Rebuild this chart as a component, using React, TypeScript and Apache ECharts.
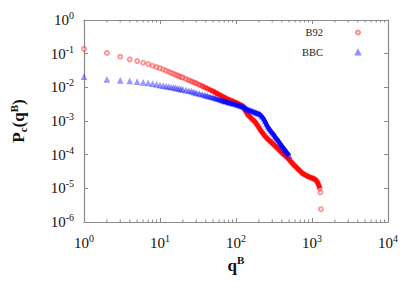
import React, { useEffect, useRef } from "react";
import * as echarts from "echarts";

// ---- data ----
const qRed = [1, 2, 3, 4, 5, 6, 7, 8, 9, 10, 11, 12, 13, 14, 15, 16, 17, 18, 19, 20, 22, 24, 26, 28, 30, 33, 36, 39, 42, 46, 50, 54, 58, 63, 68, 73, 79, 85, 92, 100, 106, 112, 118, 124, 130, 136, 142, 148, 155, 162, 170, 178, 186, 194, 203, 212, 221, 231, 241, 252, 263, 275, 287, 300, 313, 327, 341, 356, 372, 388, 405, 423, 441, 460, 480, 501, 523, 546, 570, 595, 621, 648, 676, 705, 735, 766, 799, 833, 868, 905, 943, 983, 1025, 1068, 1113, 1160, 1200, 1240, 1265, 1290, 1310];
const pRed = [0.138, 0.105, 0.0813, 0.0676, 0.0603, 0.0537, 0.049, 0.0437, 0.0398, 0.0372, 0.034, 0.0313, 0.029, 0.027, 0.0253, 0.0238, 0.0225, 0.0213, 0.0202, 0.0193, 0.0176, 0.0162, 0.015, 0.014, 0.0131, 0.0119, 0.0109, 0.00995, 0.00918, 0.00832, 0.0076, 0.00695, 0.00637, 0.00577, 0.00525, 0.00483, 0.00439, 0.00411, 0.00382, 0.00355, 0.0033, 0.00309, 0.0029, 0.00268, 0.00221, 0.00185, 0.00157, 0.00141, 0.00127, 0.00115, 0.00104, 0.000938, 0.00082, 0.00071, 0.000607, 0.000518, 0.000456, 0.0004, 0.000355, 0.000315, 0.000287, 0.000262, 0.000239, 0.000218, 0.000199, 0.000181, 0.000165, 0.000151, 0.000136, 0.000124, 0.000114, 0.000104, 0.0000959, 0.0000879, 0.0000802, 0.0000711, 0.0000635, 0.0000569, 0.0000508, 0.0000461, 0.000042, 0.0000381, 0.0000347, 0.0000316, 0.0000288, 0.000027, 0.0000256, 0.0000243, 0.0000231, 0.0000221, 0.0000213, 0.0000205, 0.0000198, 0.0000191, 0.0000178, 0.0000162, 0.0000138, 0.0000117, 0.00001, 0.0000076, 0.0000024];

const qBlue = [1, 2, 3, 4, 5, 6, 7, 8, 9, 10, 11, 12, 13, 14, 15, 16, 17, 18, 19, 20, 22, 24, 26, 28, 30, 33, 36, 39, 42, 46, 50, 54, 58, 63, 68, 73, 79, 85, 92, 100, 106, 112, 118, 124, 130, 136, 142, 148, 155, 162, 170, 178, 186, 194, 203, 212, 221, 231, 241, 252, 263, 275, 287, 300, 313, 327, 341, 356, 372, 388, 405, 423, 441, 460, 480, 501];
const pBlue = [0.02, 0.0166, 0.0155, 0.0148, 0.0141, 0.0135, 0.0129, 0.0123, 0.0117, 0.0112, 0.0108, 0.0104, 0.0101, 0.00981, 0.00955, 0.00929, 0.00902, 0.00875, 0.00851, 0.00832, 0.00793, 0.00759, 0.00724, 0.00689, 0.00659, 0.00619, 0.00587, 0.0056, 0.00535, 0.00505, 0.0048, 0.00455, 0.00433, 0.00408, 0.00386, 0.00368, 0.00348, 0.00333, 0.00318, 0.00302, 0.0029, 0.0028, 0.0027, 0.00261, 0.00244, 0.00229, 0.00216, 0.00208, 0.002, 0.00192, 0.00185, 0.00178, 0.00171, 0.00165, 0.00159, 0.00145, 0.00131, 0.00115, 0.000959, 0.000789, 0.000656, 0.000568, 0.000493, 0.000437, 0.000396, 0.000333, 0.000297, 0.000264, 0.000227, 0.0002, 0.000174, 0.000152, 0.000136, 0.000119, 0.000106, 0.0000933];

const seriesNames = ["B92", "BBC"];
const xMinorTicks = [2, 3, 4, 5, 6, 7, 8, 9, 20, 30, 40, 50, 60, 70, 80, 90, 200, 300, 400, 500, 600, 700, 800, 900, 2000, 3000, 4000, 5000, 6000, 7000, 8000, 9000];

// q from which the markers start to overlap into a band in the reference
const DENSE_FROM = 20;

const SERIF = "'Liberation Serif', 'Times New Roman', serif";

const supLabel = (v: number) => `{b|10}{s|${Math.round(Math.log10(v))}}`;
const labelRich = {
  b: { fontSize: 15, fontFamily: SERIF, color: "#111" },
  s: { fontSize: 10, fontFamily: SERIF, color: "#111", padding: [0, 0, 9, 0] },
};

export default function App() {
  const ref = useRef<HTMLDivElement>(null);
  useEffect(() => {
    if (!ref.current) return;
    const chart = echarts.init(ref.current, undefined, { renderer: "svg" });
    const gray = "#8a8a8a";
    const frameAxis = {
      axisLine: { show: true, lineStyle: { color: gray, width: 1.2 } },
      axisTick: { show: true, inside: true, length: 4, lineStyle: { color: gray } },
      splitLine: { show: false },
    };
    const redPts = qRed.map((q, i) => [q, pRed[i]]);
    const bluePts = qBlue.map((q, i) => [q, pBlue[i]]);
    const redDense = redPts.filter((p) => p[0] >= DENSE_FROM).slice(0, -2);
    const blueDense = bluePts.filter((p) => p[0] >= DENSE_FROM);
    const fade = (rgb: string, x0: number, x1: number) =>
      new echarts.graphic.LinearGradient(
        x0, 0, x1, 0,
        [
          { offset: 0, color: `rgba(${rgb},0)` },
          { offset: 0.5, color: `rgba(${rgb},0.35)` },
          { offset: 1, color: `rgba(${rgb},0.92)` },
        ],
        true
      );
    chart.setOption({
      animation: false,
      backgroundColor: "#fff",
      grid: { left: 79, right: 29, top: 20, bottom: 70 },
      legend: {
        orient: "vertical",
        right: 51,
        top: 22,
        align: "right",
        itemWidth: 4,
        itemHeight: 4,
        itemGap: 9,
        data: seriesNames,
        itemStyle: { opacity: 0.45, borderWidth: 0.8 },
        textStyle: { fontFamily: SERIF, fontSize: 10.5, color: "#222", padding: [0, 28, 0, 0] },
      },
      xAxis: [
        {
          type: "log",
          logBase: 10,
          min: 1,
          max: 10000,
          position: "bottom",
          ...frameAxis,
          axisLabel: { formatter: supLabel, rich: labelRich, margin: 11 },
          name: "{b|q}{s|B}",
          nameLocation: "middle",
          nameGap: 31,
          nameTextStyle: {
            rich: {
              b: { fontSize: 17, fontFamily: SERIF, fontWeight: "bold", color: "#111" },
              s: { fontSize: 11, fontFamily: SERIF, fontWeight: "bold", color: "#111", padding: [0, 0, 10, 0] },
            },
          },
        },
        {
          type: "log",
          logBase: 10,
          min: 1,
          max: 10000,
          position: "top",
          ...frameAxis,
          axisLabel: { show: false },
        },
      ],
      yAxis: [
        {
          type: "log",
          logBase: 10,
          min: 1e-6,
          max: 1,
          position: "left",
          ...frameAxis,
          axisLabel: { formatter: supLabel, rich: labelRich, margin: 10 },
          name: "{b|P}{c|c}{b|(q}{s|B}{b|)}",
          nameLocation: "middle",
          nameGap: 55,
          nameTextStyle: {
            rich: {
              b: { fontSize: 17, fontFamily: SERIF, fontWeight: "bold", color: "#111" },
              s: { fontSize: 11, fontFamily: SERIF, fontWeight: "bold", color: "#111", padding: [0, 0, 10, 0] },
              c: { fontSize: 11, fontFamily: SERIF, fontWeight: "bold", color: "#111", padding: [8, 0, 0, 0] },
            },
          },
        },
        {
          type: "log",
          logBase: 10,
          min: 1e-6,
          max: 1,
          position: "right",
          ...frameAxis,
          axisLabel: { show: false },
        },
      ],
      series: [
        {
          name: seriesNames[0],
          type: "scatter",
          symbol: "emptyCircle",
          symbolSize: 4,
          itemStyle: { color: "#ff0000", borderColor: "#ff0000", borderWidth: 0.8, opacity: 0.4 },
          data: redPts,
          z: 2,
        },
        {
          name: seriesNames[0] + " band",
          type: "line",
          showSymbol: false,
          symbol: "none",
          lineStyle: { color: fade("255,0,0", 178, 214), width: 4.5 },
          data: redDense,
          z: 3,
        },
        {
          name: seriesNames[1],
          type: "scatter",
          symbol: "emptyTriangle",
          symbolSize: 3.5,
          itemStyle: { color: "#0000ff", borderColor: "#0000ff", borderWidth: 0.8, opacity: 0.4 },
          data: bluePts,
          z: 4,
        },
        {
          name: seriesNames[1] + " band",
          type: "line",
          showSymbol: false,
          symbol: "none",
          lineStyle: { color: fade("0,0,255", 182, 224), width: 4.5 },
          data: blueDense,
          z: 5,
        },
        {
          type: "custom",
          silent: true,
          clip: false,
          data: xMinorTicks.map((v) => [v, 1e-6]),
          renderItem: (params: any, api: any) => {
            const v = api.value(0);
            const b = api.coord([v, 1e-6]);
            const t = api.coord([v, 1]);
            const st = { stroke: gray, lineWidth: 1 };
            return {
              type: "group",
              children: [
                { type: "line", shape: { x1: b[0], y1: b[1], x2: b[0], y2: b[1] - 2.5 }, style: st },
                { type: "line", shape: { x1: t[0], y1: t[1], x2: t[0], y2: t[1] + 2.5 }, style: st },
              ],
            };
          },
        },
      ],
    });
    return () => chart.dispose();
  }, []);
  return <div ref={ref} style={{ position: "absolute", left: 0, top: 0, width: 417, height: 292 }} />;
}
